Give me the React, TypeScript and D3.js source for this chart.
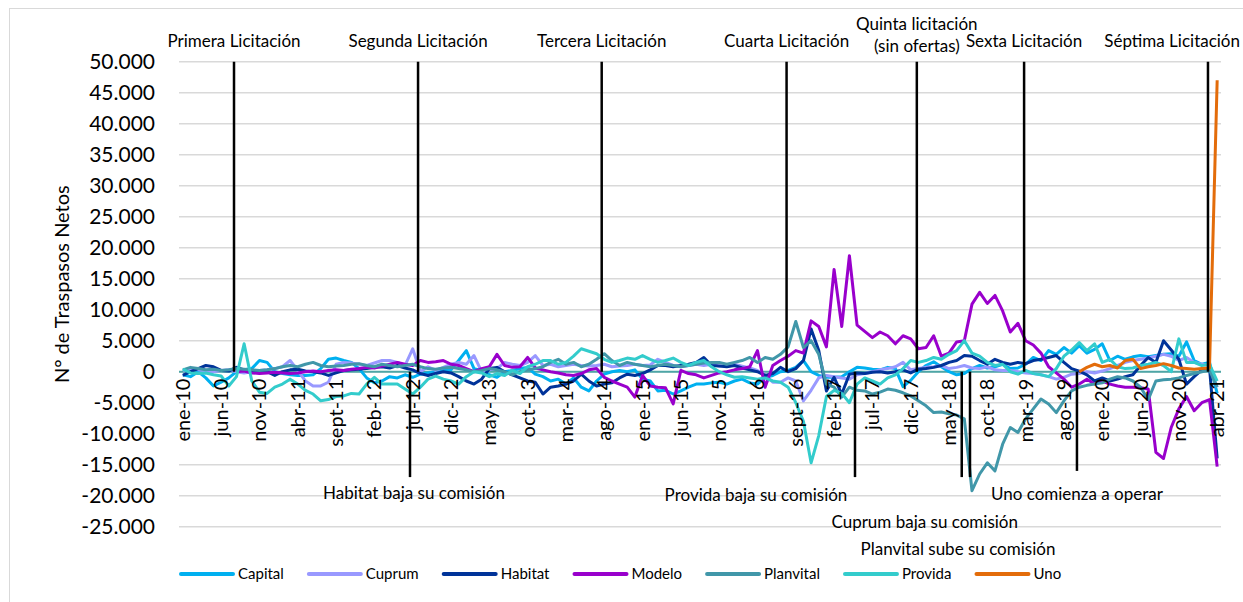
import React, { useEffect, useRef } from "react";
import * as d3 from "d3";

// ---------------- DATA ----------------
const MONTHS = ["ene", "feb", "mar", "abr", "may", "jun", "jul", "ago", "sept", "oct", "nov", "dic"];
const YEARS = ["10", "11", "12", "13", "14", "15", "16", "17", "18", "19", "20", "21"];
const N_CATEGORIES = 136; // ene-10 .. abr-21
const categories: string[] = [];
for (const yy of YEARS) for (const mm of MONTHS) if (categories.length < N_CATEGORIES) categories.push(`${mm}-${yy}`);
const TICK_EVERY = 5;

const yTicks = [-25000, -20000, -15000, -10000, -5000, 0, 5000, 10000, 15000, 20000, 25000, 30000, 35000, 40000, 45000, 50000];

const seriesNames = ["Capital", "Cuprum", "Habitat", "Modelo", "Planvital", "Provida", "Uno"];

const capital = [
  -500, -800, 0, -1000, -2300, -1700, -1000, 0, 300, 500, 1800, 1500,
  0, -300, -500, -600, -600, -500, 500, 2000, 2200, 1800, 1500, 500,
  -1000, -1800, -1500, -800, -1000, -500, -900, -400, -200, 0, 200, 300,
  1800, 3400, 500, 200, -500, -900, 0, 200, 500, 700, -400, -800,
  -1500, -1200, -2000, -1000, -2500, -3100, -1500, -400, 0, 200, 0, 300,
  -1200, -1500, -3100, -3000, -3600, -3100, -2500, -2000, -2000, -1800, -1700, -2000,
  -1500, -1200, -1800, -2000, -900, -600, 0, 200, 700, 1800, 0, -600,
  -900, -900, -800, 0, 700, 600, 400, 300, 700, 500, -2400, -1400,
  0, 1000, 1600, 800, 0, -500, -300, 500, 1000, 600, 800, 1200,
  500, 600, 1200, 2300, 1800, 3400, 2800, 3900, 3000, 4200, 3000, 3600,
  4500, 1800, 2500, 2000, 2400, 2600, 2400, 2600, 2800, 2900, 2500, 4800,
  1800, 1200, 1500, -3500,
];

const cuprum = [
  200, 500, 300, 100, 0, 200, 300, 0, -200, 0, 200, 300,
  500, 800, 1800, 200, -1500, -2300, -2300, -1700, 1200, 1500, 1400, 1200,
  1000, 1400, 1800, 1800, 1500, 1000, 3700, 0, 800, 200, 700, 1200,
  1500, 1200, 2600, 0, 300, 500, 1500, 1200, 1000, 1500, 2600, 1000,
  1200, 800, 1000, 1200, 1000, 900, 1000, 1200, 800, 900, 1000, 1200,
  1000, 1100, 2000, 1500, 1000, 800, 1000, 1200, 1000, 1200, 900, 1000,
  1200, 900, 600, 200, -500, -1700, -1700, -1000, -1500, -4700, -3000, -1000,
  -600, -800, -1000, -1200, -500, -300, 0, 300, 500, 800, 1500, 300,
  500, 700, 800, 1000, 500, 700, 1000, 600, 500, 800, 300, 200,
  200, 0, -200, -300, -500, -800, -1200, -900, -400, -300, 0, -200,
  100, 500, 1000, 1500, 1800, 2000, 2200, 2500, 2800, 2500, 1800, 2300,
  1500, 1200, 1000, -2500,
];

const habitat = [
  -600, 0, 500, 1000, 800, 200, 100, 700, 300, 0, 200, 0,
  -600, 0, 300, 400, 100, 0, -200, -600, -200, 200, 300, 400,
  500, 700, 800, 600, 1000, 600, 300, -300, -600, -300, 0, -200,
  -800, -1500, -2000, -1200, 500, 700, 0, -500, -1000, -1500, -1700, -3600,
  -2500, -2300, -2000, -1500, -400, -1500, -2300, -2000, -1800, -1000, -400, -600,
  -300, 300, 1000, 1000, 800, 1000, 1200, 1500, 2300, 1000, 900, 800,
  1000, 600, 300, 0, -600, -300, 700, 0, 500, 1800, 6900, 3400,
  -3100, -900, -3600, -400, -200, -300, -100, 0, -200, 0, 300, -200,
  400, 500, 700, 1000, 1500, 1800, 2600, 2500, 1800, 1200, 2000, 1500,
  1200, 1500, 1300, 1800, 2000, 2300, 2600, 1500, 500, 100, -500, -1500,
  -1000, -1500, -1200, -800, -500, 1000, 2300, 1500, 5000, 3500, 2000, -2000,
  -800, 300, 600, -14000,
];

const modelo = [
  null, null, null, null, null, null, null, 0, 100, -200, -300, -200,
  -100, -200, -300, -200, 0, 100, 0, 200, 300, 200, 400, 500,
  700, 600, 900, 1200, 1500, 1200, 1000, 1800, 1500, 1600, 1800, 1200,
  1000, 500, 0, 500, 800, 2800, 1000, 700, 800, 2300, 600, 300,
  0, -200, -500, -600, -300, 300, 500, -900, -1500, -2000, -2500, -4100,
  -600, -2300, -2500, -2600, -5200, 200, -300, -500, -1000, -600, -200, 0,
  300, 500, 800, 3400, -2500, 1000, 1800, 2500, 3400, 3000, 8200, 7300,
  4000, 16500, 7300, 18700, 7500, 6500, 5500, 6400, 5800, 4500, 5800, 5300,
  3700, 3900, 5800, 2500, 3000, 4800, 5000, 10900, 12800, 11000, 12300, 9800,
  6400, 7800, 5000, 4300, 3000, 800, -200, -1200, -2500, -2000, -1200, -2000,
  -1500, -2000, -2300, -2500, -2500, -2600, -2800, -13000, -14000, -9000, -6000, -4000,
  -6300, -5000, -4500, -15300,
];

const planvital = [
  300, 700, 500, 300, 400, 200, 300, 500, 400, 300, 200, 300,
  500, 800, 1000, 800, 1200, 1500, 1000, 800, 900, 1000, 1200, 1300,
  1000, 800, 1200, 1000, 800, 1000, 1200, 800, 500, 400, 600, 700,
  500, 300, 0, 200, 500, 300, 0, -500, 0, 300, 500, 800,
  1500, 2000, 1200, 1500, 800, 1200, 2000, 2900, 1800, 1000, 1500, 1200,
  1000, 800, 1000, 1200, 1000, 800, 1000, 1200, 1400, 1500, 1500, 1200,
  1500, 1800, 2300, 1500, 2300, 2000, 2800, 4000, 8100, 3900, 5000, 2800,
  -2000, -2500, -4100, -2500, -3000, -3100, -3600, -3300, -2800, -3000, -3400, -3900,
  -4700, -5500, -6600, -6500, -6800, -7000, -7600, -19200, -16500, -14700, -16000, -11700,
  -9000, -9800, -7600, -6000, -4400, -5200, -6600, -4700, -3100, -2500, -2200, -2000,
  -1800, -1200, -800, -1000, -1500, -2500, -4500, -1500, -1300, -1200, -1000, -600,
  -300, 0, 300, -2500,
];

const provida = [
  400, -200, -300, -200, -500, -700, -2300, -800, 4500, -1500, -3300, -3500,
  -2500, -2000, -1200, -2000, -3000, -3600, -4700, -4500, -4000, -3900, -3500, -3600,
  -2000, -900, -2000, -2000, -2000, -2800, -3600, -2500, -1200, -700, -1200, -1500,
  -2000, -800, 0, -200, -800, -300, -600, 200, -300, 800, 1200, 1800,
  1800, 1200, 1500, 2500, 3700, 3300, 2900, 2000, 1500, 1800, 2200, 2000,
  2600, 2000, 1500, 1800, 2200, 1500, 1000, 1500, 1800, 800, 0, -500,
  -900, -800, -1000, -1200, -1000, -1500, -1700, -2500, -5000, -8000, -14700, -10300,
  -4000, -3000, -3500, -5000, -2000, -1000, -1500, -2000, -1000, -500, 500, 1800,
  1500, 1800, 2300, 2000, 2800, 3400, 5000, 3000, 2500, 1500, 1000, 1200,
  0, -400, 200, -300, -500, -800, 500, 2500, 3500, 4700, 3400, 4500,
  1500, 2000, 800, 500, 600, 1000, 1200, 1500, 1000, 0, 5300, 1500,
  1500, 1000, 1200, -1500,
];

const uno = [
  null, null, null, null, null, null, null, null, null, null, null, null,
  null, null, null, null, null, null, null, null, null, null, null, null,
  null, null, null, null, null, null, null, null, null, null, null, null,
  null, null, null, null, null, null, null, null, null, null, null, null,
  null, null, null, null, null, null, null, null, null, null, null, null,
  null, null, null, null, null, null, null, null, null, null, null, null,
  null, null, null, null, null, null, null, null, null, null, null, null,
  null, null, null, null, null, null, null, null, null, null, null, null,
  null, null, null, null, null, null, null, null, null, null, null, null,
  null, null, null, null, null, null, null, null, null, 0, 700, 1200,
  800, 1000, 600, 1800, 2000, 500, 800, 1000, 1300, 1000, 600, 500,
  400, 500, 600, 47000,
];

// event positions expressed as (fractional) month index from ene-10
const licitacionLabels = [["Primera Licitación"], ["Segunda Licitación"], ["Tercera Licitación"], ["Cuarta Licitación"], ["Quinta licitación", "(sin ofertas)"], ["Sexta Licitación"], ["Séptima Licitación"]];
const licitacionAt = [6.68, 30.7, 54.67, 78.8, 95.8, 109.8, 133.8];

const eventoLabels = ["Habitat baja su comisión", "Provida baja su comisión", "Cuprum baja su comisión", "Planvital sube su comisión", "Uno comienza a operar"];
const eventoAt = [29.65, 87.73, 101.66, 102.74, 116.7];

// ---------------- STYLE / LAYOUT ----------------
const COLORS = ["#00b0f0", "#9999ff", "#003399", "#9900cc", "#4197a9", "#33cccc", "#e36c0a"];
const FONT = "Lato, 'Open Sans', sans-serif";
const W = 1243, H = 602;
const PLOT = { left: 179, right: 1221, top: 61.7, bottom: 526.7 };
// label placement of the lower annotations (dx from line, baseline y)
const EVENT_LABEL_LAYOUT = [
  { dx: 4, y: 499 },
  { dx: -99, y: 501 },
  { dx: -37, y: 528 },
  { dx: -12, y: 555 },
  { dx: 0, y: 500 },
];
const EVENT_LINE_BOTTOM = [-17000, -17000, -17000, -17000, -16000];

export default function App() {
  const ref = useRef<SVGSVGElement>(null);

  useEffect(() => {
    const svg = d3.select(ref.current);
    svg.selectAll("*").remove();

    const xBand = d3.scaleBand<string>().domain(categories).range([PLOT.left, PLOT.right]);
    const bw = xBand.bandwidth();
    const xc = (i: number) => (xBand(categories[0]) as number) + (i + 0.5) * bw;
    const y = d3.scaleLinear().domain([-25000, 50000]).range([PLOT.bottom, PLOT.top]);

    const fmt = d3.formatLocale({ decimal: ",", thousands: ".", grouping: [3], currency: ["", ""], minus: "-" }).format(",.0f");

    // outer border
    svg.append("rect").attr("x", 9.5).attr("y", 8.5).attr("width", 1400).attr("height", 800)
      .attr("fill", "white").attr("stroke", "#d9d9d9").attr("stroke-width", 1);

    // gridlines
    svg.append("g").selectAll("line").data(yTicks).join("line")
      .attr("x1", PLOT.left).attr("x2", PLOT.right)
      .attr("y1", (d) => y(d)).attr("y2", (d) => y(d))
      .attr("stroke", "#d9d9d9").attr("stroke-width", 1.5);

    // y tick labels
    svg.append("g").selectAll("text").data(yTicks).join("text")
      .attr("x", 155).attr("y", (d) => y(d)).attr("dy", "0.35em")
      .attr("text-anchor", "end").attr("font-family", FONT).attr("font-size", 21).attr("fill", "#000")
      .text((d) => fmt(d));

    // y axis title
    svg.append("text")
      .attr("transform", `translate(62,${(PLOT.top + PLOT.bottom) / 2 - 10}) rotate(-90)`)
      .attr("dy", "0.35em").attr("text-anchor", "middle")
      .attr("font-family", FONT).attr("font-size", 20).attr("fill", "#000")
      .text("N° de Traspasos Netos");

    // zero axis line
    svg.append("line").attr("x1", PLOT.left).attr("x2", PLOT.right)
      .attr("y1", y(0)).attr("y2", y(0)).attr("stroke", "#4ea6a6").attr("stroke-width", 2);

    // series
    const allSeries = [capital, cuprum, habitat, modelo, planvital, provida, uno];
    const line = d3.line<number | null>()
      .defined((d) => d !== null)
      .x((_, i) => xc(i))
      .y((d) => y(d as number))
      .curve(d3.curveLinear);
    svg.append("g").selectAll("path").data(allSeries).join("path")
      .attr("d", (d) => line(d as (number | null)[]))
      .attr("fill", "none")
      .attr("stroke", (_, i) => COLORS[i])
      .attr("stroke-width", 3)
      .attr("stroke-linejoin", "round");

    // x tick labels
    const tickIdx = categories.map((_, i) => i).filter((i) => i % TICK_EVERY === 0);
    svg.append("g").selectAll("text").data(tickIdx).join("text")
      .attr("transform", (i) => `translate(${xc(i)},${y(0) + 7}) rotate(-90)`)
      .attr("dy", "0.35em").attr("text-anchor", "end")
      .attr("font-family", FONT).attr("font-size", 20).attr("fill", "#000")
      .text((i) => categories[i]);

    // licitación lines
    const xf = (m: number) => xc(m);
    svg.append("g").selectAll("line").data(licitacionAt).join("line")
      .attr("x1", (d) => xf(d)).attr("x2", (d) => xf(d))
      .attr("y1", y(50000)).attr("y2", y(0))
      .attr("stroke", "#000").attr("stroke-width", 2.5);

    // event lines
    svg.append("g").selectAll("line").data(eventoAt).join("line")
      .attr("x1", (d) => xf(d)).attr("x2", (d) => xf(d))
      .attr("y1", y(0)).attr("y2", (_, i) => y(EVENT_LINE_BOTTOM[i]))
      .attr("stroke", "#000").attr("stroke-width", 2.5);

    // licitación labels
    const topG = svg.append("g");
    licitacionLabels.forEach((lines, k) => {
      const t = topG.append("text")
        .attr("x", xf(licitacionAt[k]))
        .attr("text-anchor", "middle")
        .attr("font-family", FONT).attr("font-size", 17).attr("fill", "#000");
      if (lines.length === 1) {
        t.attr("y", 47).text(lines[0]);
      } else {
        lines.forEach((s, j) => {
          t.append("tspan").attr("x", xf(licitacionAt[k])).attr("y", 30 + j * 22).text(s);
        });
      }
      // keep label inside the chart area
      const node = t.node() as SVGTextElement;
      const bb = node.getBBox();
      const maxRight = W - 3;
      if (bb.x + bb.width > maxRight) {
        const shift = bb.x + bb.width - maxRight;
        t.attr("x", xf(licitacionAt[k]) - shift);
      }
    });

    // event labels
    svg.append("g").selectAll("text").data(eventoLabels).join("text")
      .attr("x", (_, i) => xf(eventoAt[i]) + EVENT_LABEL_LAYOUT[i].dx)
      .attr("y", (_, i) => EVENT_LABEL_LAYOUT[i].y)
      .attr("text-anchor", "middle")
      .attr("font-family", FONT).attr("font-size", 17).attr("fill", "#000")
      .text((d) => d);

    // legend
    const lg = svg.append("g");
    let lx = 181;
    const ly = 574;
    seriesNames.forEach((name, i) => {
      lg.append("line").attr("x1", lx).attr("x2", lx + 52).attr("y1", ly).attr("y2", ly)
        .attr("stroke", COLORS[i]).attr("stroke-width", 4).attr("stroke-linecap", "round");
      const t = lg.append("text").attr("x", lx + 57).attr("y", ly).attr("dy", "0.35em")
        .attr("font-family", FONT).attr("font-size", 15).attr("fill", "#000").text(name);
      const wText = (t.node() as SVGTextElement).getComputedTextLength();
      lx = lx + 57 + wText + 25;
    });
  }, []);

  return (
    <div style={{ position: "absolute", left: 0, top: 0 }}>
      <svg ref={ref} width={W} height={H} style={{ display: "block" }} />
    </div>
  );
}
